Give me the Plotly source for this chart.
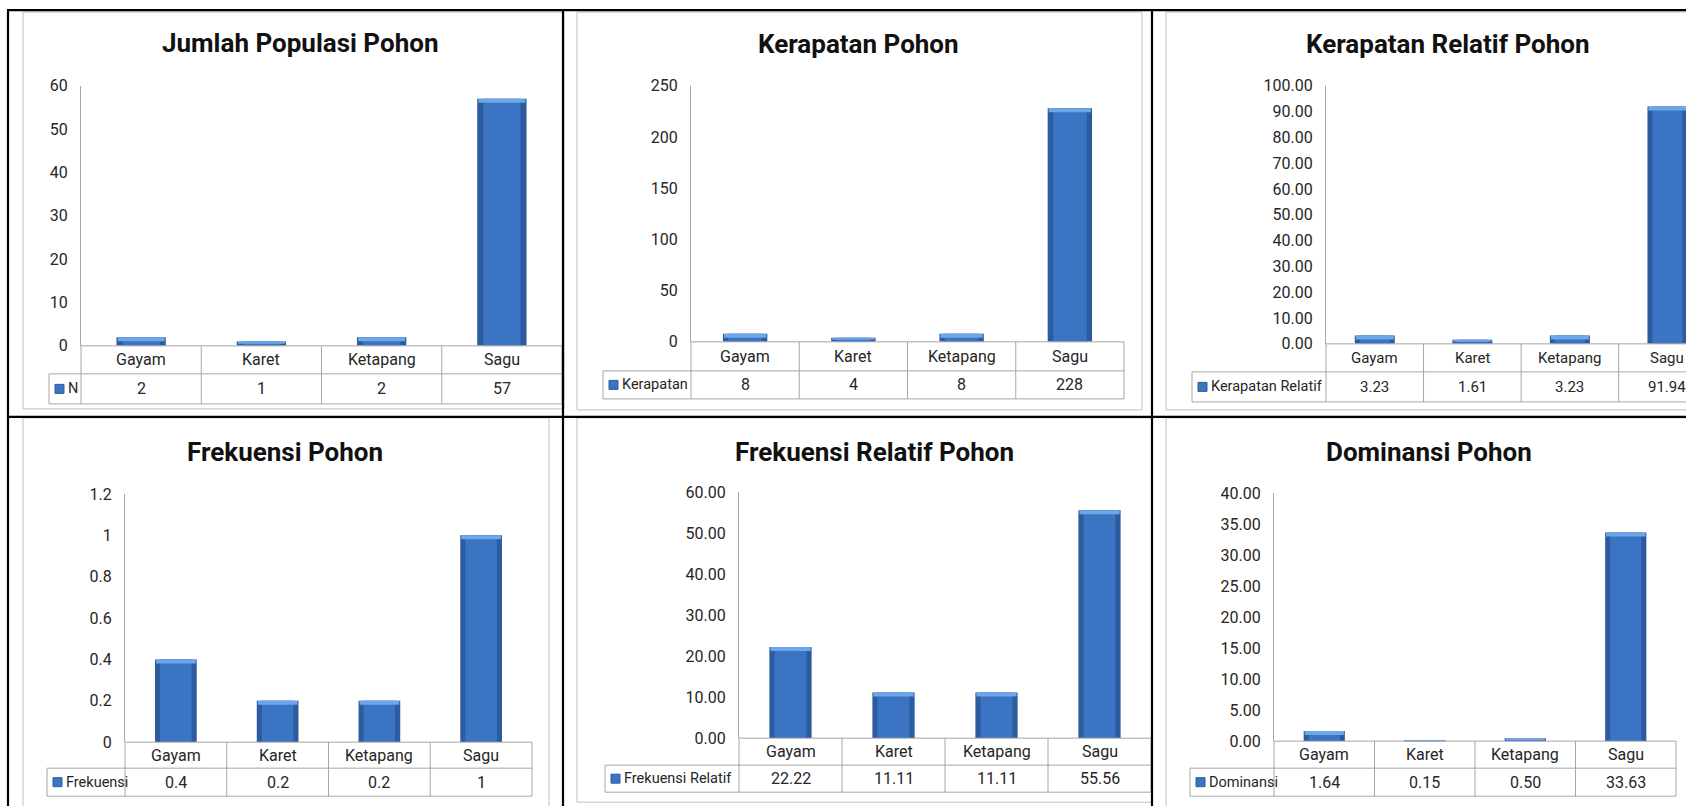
import plotly.graph_objects as go

# ---------------- data ----------------
categories = ["Gayam", "Karet", "Ketapang", "Sagu"]
jumlah_n = [2, 1, 2, 57]
kerapatan = [8, 4, 8, 228]
kerapatan_relatif = [3.23, 1.61, 3.23, 91.94]
frekuensi = [0.4, 0.2, 0.2, 1]
frekuensi_relatif = [22.22, 11.11, 11.11, 55.56]
dominansi = [1.64, 0.15, 0.50, 33.63]

titles = ["Jumlah Populasi Pohon", "Kerapatan Pohon", "Kerapatan Relatif Pohon",
          "Frekuensi Pohon", "Frekuensi Relatif Pohon", "Dominansi Pohon"]
series_names = ["N", "Kerapatan", "Kerapatan Relatif",
                "Frekuensi", "Frekuensi Relatif", "Dominansi"]
series_values = [jumlah_n, kerapatan, kerapatan_relatif,
                 frekuensi, frekuensi_relatif, dominansi]
value_formats = ["{:g}", "{:g}", "{:.2f}", "{:g}", "{:.2f}", "{:.2f}"]
y_max = [60, 250, 100, 1.2, 60, 40]
y_step = [10, 50, 10, 0.2, 10, 5]
y_tickformat = ["d", "d", ".2f", "", ".2f", ".2f"]

# ---------------- geometry (target pixels in the final picture) ----------------
W, H = 1686, 806
# observed vertical placement of the figure inside the photographed page
OFF, SC = 10.4, 0.9757

panels = [
    dict(l=81, r=562, t=87, b=347, tl=49, rm=375, rb=405, xhi=3.5, tx=300, ty=44),
    dict(l=691, r=1124, t=87, b=343, tl=603, rm=372, rb=400, xhi=3.5, tx=858, ty=45),
    dict(l=1326, r=1686, t=87, b=345, tl=1192, rm=373, rb=403, xhi=3.19, tx=1448, ty=45),
    dict(l=125, r=532, t=495, b=743, tl=47, rm=769, rb=797, xhi=3.5, tx=285, ty=453),
    dict(l=739, r=1151, t=493, b=739, tl=605, rm=766, rb=793, xhi=3.5, tx=874, ty=453),
    dict(l=1274, r=1676, t=494, b=742, tl=1190, rm=769, rb=797, xhi=3.5, tx=1429, ty=453),
]
frames = [
    (23, 13.5, 564, 410), (577, 13.5, 1142, 411), (1166, 13.5, 1700, 411),
    (23, 419, 549, 830), (577, 419, 1152, 803), (1166, 419, 1700, 830),
]

FONT = "Roboto, Lato, sans-serif"
TXT = "#262626"
GRID = "#a6a6a6"
BAR_DARK = "#2c5b9e"
BAR_MAIN = "#3b74c2"
BAR_CAP = "#6ea7e8"


def px(x):
    return x / W


def py(y):
    yf = (y - OFF) / SC
    return 1 - yf / H


fig = go.Figure()
shapes = []
annotations = []
layout_axes = {}

for i, p in enumerate(panels):
    n = i + 1
    xa = "x" if n == 1 else f"x{n}"
    ya = "y" if n == 1 else f"y{n}"
    vals = series_values[i]
    ppu = (p["b"] - p["t"]) / y_max[i]
    cap = [min(4.0 / ppu, v * 0.5) for v in vals]

    fig.add_trace(go.Bar(x=categories, y=vals, width=0.41, marker=dict(color=BAR_DARK, line=dict(width=0)),
                         xaxis=xa, yaxis=ya, showlegend=False, hoverinfo="skip"))
    fig.add_trace(go.Bar(x=categories, y=vals, width=0.31, marker=dict(color=BAR_MAIN, line=dict(width=0)),
                         xaxis=xa, yaxis=ya, showlegend=False, hoverinfo="skip"))
    fig.add_trace(go.Bar(x=categories, y=cap, base=[v - c for v, c in zip(vals, cap)], width=0.39,
                         marker=dict(color=BAR_CAP, line=dict(width=0)),
                         xaxis=xa, yaxis=ya, showlegend=False, hoverinfo="skip"))

    layout_axes["xaxis" if n == 1 else f"xaxis{n}"] = dict(
        domain=[px(p["l"]), px(min(p["r"], W))], anchor=ya, type="category",
        categoryorder="array", categoryarray=categories,
        range=[-0.5, p["xhi"]], showticklabels=False, showline=False,
        showgrid=False, zeroline=False, ticks="", fixedrange=True)
    layout_axes["yaxis" if n == 1 else f"yaxis{n}"] = dict(
        domain=[py(p["b"]), py(p["t"])], anchor=xa, range=[0, y_max[i]], dtick=y_step[i],
        tick0=0, tickformat=y_tickformat[i], showline=True, linecolor=GRID, linewidth=1,
        showgrid=False, zeroline=False, ticks="", ticklabelstandoff=9,
        tickfont=dict(family=FONT, size=16, color=TXT), fixedrange=True)

    annotations.append(dict(text=f"<b>{titles[i]}</b>", x=px(p["tx"]), y=py(p["ty"]),
                            xref="paper", yref="paper", showarrow=False,
                            xanchor="center", yanchor="middle",
                            font=dict(family=FONT, size=26, color="#111111")))

    cat_w = (p["r"] - p["l"]) / (p["xhi"] + 0.5)
    right = min(p["l"] + 4 * cat_w, W + 5)
    line = dict(color=GRID, width=1)
    for (x0, x1, yy) in ((p["l"], right, p["b"]), (p["tl"], right, p["rm"]), (p["tl"], right, p["rb"])):
        shapes.append(dict(type="line", xref="paper", yref="paper", x0=px(x0), x1=px(x1),
                           y0=py(yy), y1=py(yy), line=line))
    shapes.append(dict(type="line", xref="paper", yref="paper", x0=px(p["tl"]), x1=px(p["tl"]),
                       y0=py(p["rm"]), y1=py(p["rb"]), line=line))
    for k in range(5):
        xk = p["l"] + k * cat_w
        if xk > W:
            continue
        shapes.append(dict(type="line", xref="paper", yref="paper", x0=px(xk), x1=px(xk),
                           y0=py(p["b"]), y1=py(p["rb"]), line=line))

    cy = (p["b"] + p["rm"]) / 2
    vy = (p["rm"] + p["rb"]) / 2
    tsize = 15 if p["xhi"] < 3.5 else 16
    for c, v in zip(categories, vals):
        annotations.append(dict(text=c, x=c, y=py(cy), xref=xa, yref="paper", showarrow=False,
                                xanchor="center", yanchor="middle",
                                font=dict(family=FONT, size=tsize, color=TXT)))
        annotations.append(dict(text=value_formats[i].format(v), x=c, y=py(vy), xref=xa,
                                yref="paper", showarrow=False, xanchor="center", yanchor="middle",
                                font=dict(family=FONT, size=tsize, color=TXT)))
    kx = p["tl"] + 6
    shapes.append(dict(type="rect", xref="paper", yref="paper", x0=px(kx), x1=px(kx + 9),
                       y0=py(vy + 4.5), y1=py(vy - 4.5), fillcolor=BAR_MAIN,
                       line=dict(color=BAR_DARK, width=1)))
    annotations.append(dict(text=series_names[i], x=px(kx + 11), y=py(vy), xref="paper",
                            yref="paper", showarrow=False, xanchor="left", yanchor="middle",
                            font=dict(family=FONT, size=14.5, color=TXT)))

for (x0, y0, x1, y1) in frames:
    shapes.append(dict(type="rect", xref="paper", yref="paper", x0=px(x0), x1=px(x1),
                       y0=py(y1), y1=py(y0), line=dict(color="#c0c0c0", width=1), layer="below"))

black = dict(color="black", width=2.2)
for x in (8, 563, 1152):
    shapes.append(dict(type="line", xref="paper", yref="paper", x0=px(x), x1=px(x),
                       y0=py(11.5), y1=py(830), line=black))
for y in (11.6, 418):
    shapes.append(dict(type="line", xref="paper", yref="paper", x0=px(7), x1=px(W + 5),
                       y0=py(y), y1=py(y), line=black))

fig.update_layout(
    width=W, height=H, margin=dict(l=0, r=0, t=0, b=0, pad=0),
    paper_bgcolor="white", plot_bgcolor="rgba(0,0,0,0)",
    barmode="overlay", showlegend=False,
    shapes=shapes, annotations=annotations, **layout_axes,
)

post = (
    "document.documentElement.style.margin='0';"
    "document.body.style.margin='0';"
    "document.documentElement.style.overflow='hidden';"
    "document.body.style.overflow='hidden';"
)
fig.write_html("out.html", include_plotlyjs=True, config={"displayModeBar": False},
               post_script=post)
